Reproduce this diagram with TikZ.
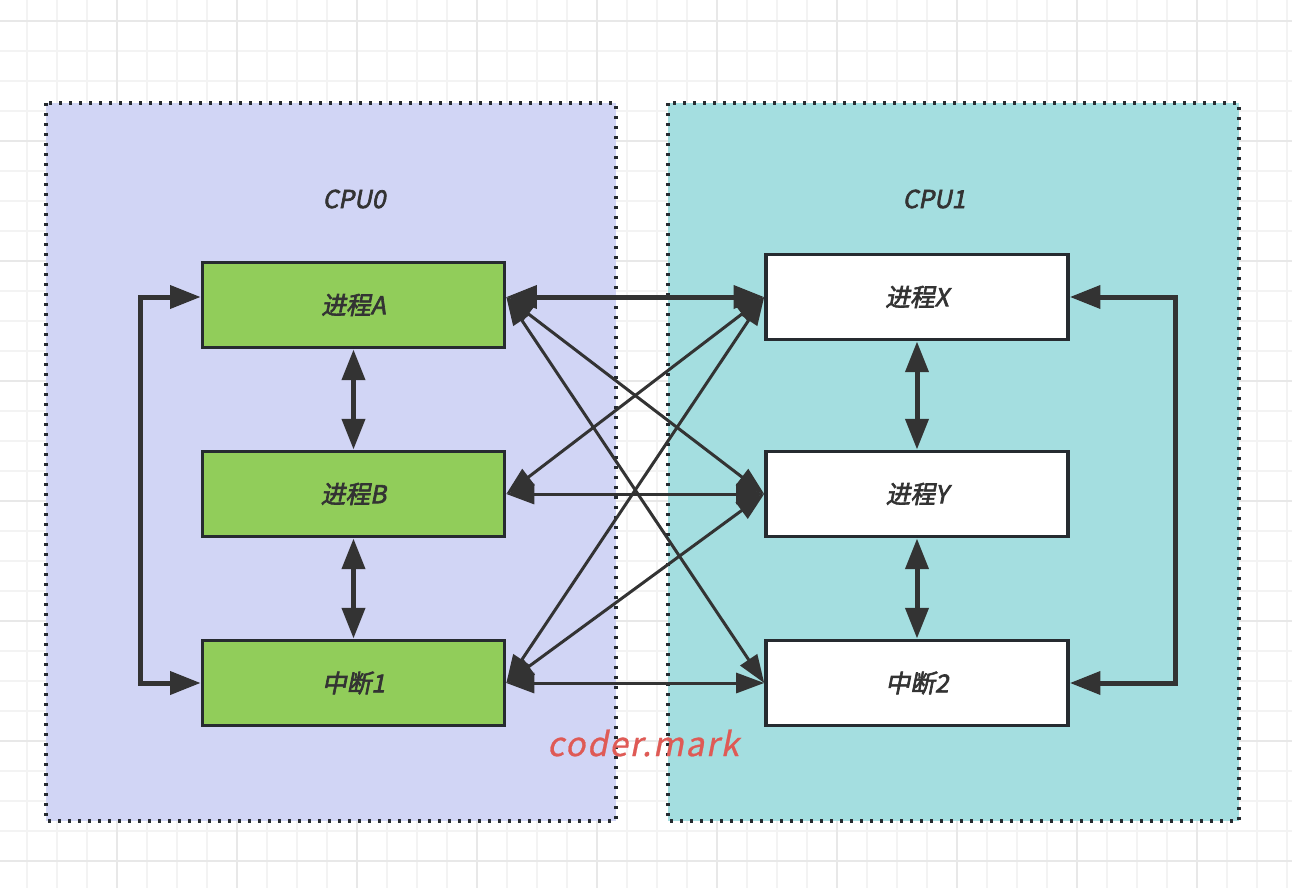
\documentclass[tikz,border=0pt]{standalone}
\usepackage{fontspec}
\newfontfamily\cjk[FakeSlant=0.2,FakeBold=2.5]{Noto Sans CJK SC}
\newfontfamily\wmfont[FakeSlant=0.2,FakeBold=0.8,LetterSpace=5]{Noto Sans CJK SC}
\usetikzlibrary{arrows.meta}
\definecolor{gridminor}{HTML}{F3F3F3}
\definecolor{gridmajor}{HTML}{E8E8E8}
\definecolor{lpanel}{HTML}{D1D5F5}
\definecolor{rpanel}{HTML}{A4DEE0}
\definecolor{gbox}{HTML}{91CD5A}
\definecolor{bord}{HTML}{262B30}
\definecolor{ink}{HTML}{333333}
\definecolor{wm}{HTML}{DF5A55}
\begin{document}
\begin{tikzpicture}[x=0.75pt,y=-0.75pt,
  panel/.style={draw=bord, line width=2.4pt, dash pattern=on 2.5pt off 5pt},
  box/.style={draw=bord, line width=2.7pt, minimum width=226.5pt, minimum height=64pt, inner sep=0pt, font=\cjk\fontsize{18.5}{21}\selectfont, text=ink},
  gbx/.style={box, fill=gbox},
  wbx/.style={box, fill=white},
  title/.style={font=\cjk\fontsize{18.5}{21}\selectfont, text=ink},
  thickarr/.style={draw=ink, line width=3.75pt, {Triangle[length=23pt,width=17pt]}-{Triangle[length=23pt,width=17pt]}},
  thinarr/.style={draw=ink, line width=2.25pt, {Triangle[length=21pt,width=15pt]}-{Triangle[length=21pt,width=15pt]}}
]
\useasboundingbox (0,0) rectangle (1292,888);
\fill[white] (0,0) rectangle (1292,888);
% grid
\foreach \i in {0,...,42} { \draw[gridminor, line width=1.5pt] (26.7+30*\i,0) -- (26.7+30*\i,888); }
\foreach \i in {0,...,29} { \draw[gridminor, line width=1.5pt] (0,20.7+30*\i) -- (1292,20.7+30*\i); }
\foreach \i in {0,...,10} { \draw[gridmajor, line width=1.5pt] (116.7+120*\i,0) -- (116.7+120*\i,888); }
\foreach \i in {0,...,7} { \draw[gridmajor, line width=1.5pt] (0,20.7+120*\i) -- (1292,20.7+120*\i); }
% panels
\path[fill=lpanel] (46,103) rectangle (616,821);
\draw[panel] (46,103) rectangle (616,821);
\path[fill=rpanel] (668,103) rectangle (1239,821);
\draw[panel] (668,103) rectangle (1239,821);
\node[title] (cpu0) at (354,199) {CPU0};
\node[title] (cpu1) at (934,199) {CPU1};
% boxes
\node[gbx] (A) at (353.5,305) {进程A};
\node[gbx] (B) at (353.5,494) {进程B};
\node[gbx] (I1) at (353.5,683) {中断1};
\node[wbx] (X) at (917,297) {进程X};
\node[wbx] (Y) at (917,494) {进程Y};
\node[wbx] (I2) at (917,683) {中断2};
% ports
\coordinate (Ae) at ([yshift=6pt]A.east);
\coordinate (Aw) at ([yshift=6pt]A.west);
\coordinate (Be) at (B.east);
\coordinate (Ie) at (I1.east);
\coordinate (Xw) at (X.west);
\coordinate (Yw) at (Y.west);
\coordinate (Jw) at (I2.west);
% thick connectors
\draw[thickarr] (Ae) -- (Xw);
\draw[thickarr] (A.south) -- (B.north);
\draw[thickarr] (B.south) -- (I1.north);
\draw[thickarr] (X.south) -- (Y.north);
\draw[thickarr] (Y.south) -- (I2.north);
\draw[thickarr] (Aw) -- ++(-60,0) |- (I1.west);
\draw[thickarr] (X.east) -- ++(106,0) |- (I2.east);
% thin connectors
\draw[thinarr] (Be) -- (Yw);
\draw[thinarr] (Ie) -- (Jw);
\draw[thinarr] (Ae) -- (Yw);
\draw[thinarr] (Ae) -- (Jw);
\draw[thinarr] (Xw) -- (Be);
\draw[thinarr] (Xw) -- (Ie);
\draw[thinarr] (Yw) -- (Ie);
% watermark
\node[font=\wmfont\fontsize{25}{30}\selectfont, text=wm] (wm) at (643,743) {coder.mark};
\end{tikzpicture}
\end{document}
